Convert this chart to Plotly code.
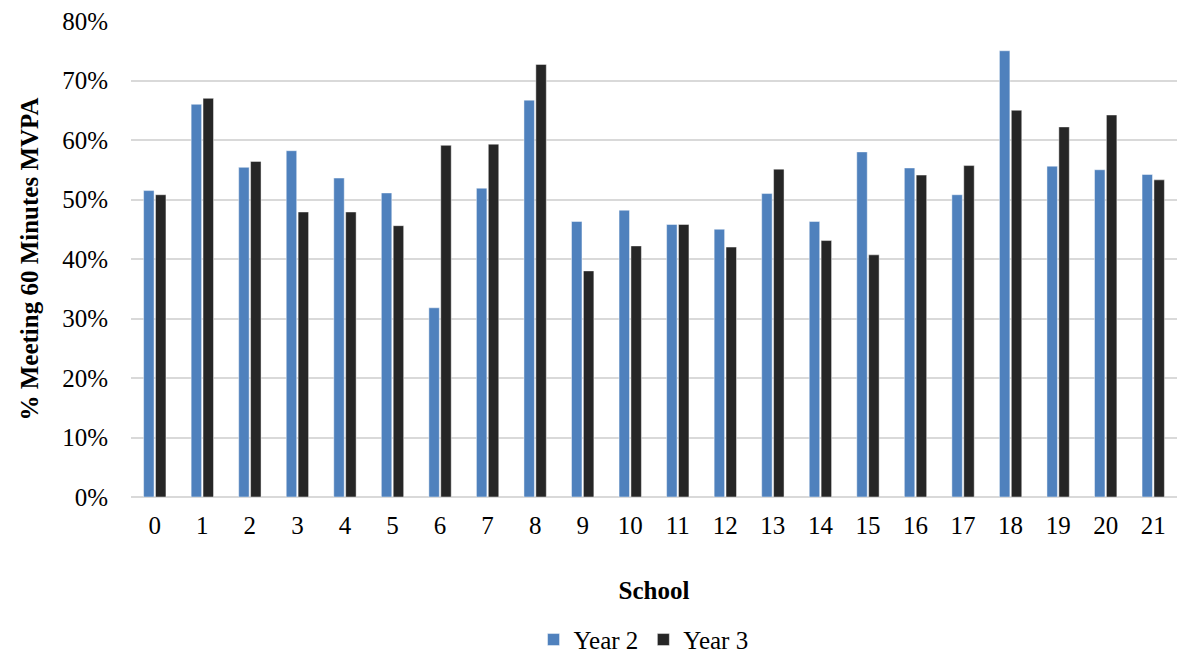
import plotly.graph_objects as go

schools = [str(i) for i in range(22)]
year2 = [51.5, 66.0, 55.4, 58.2, 53.6, 51.1, 31.8, 51.9, 66.7, 46.3, 48.2,
         45.8, 45.0, 51.0, 46.3, 58.0, 55.3, 50.8, 75.0, 55.6, 55.0, 54.2]
year3 = [50.8, 67.0, 56.4, 47.9, 47.9, 45.6, 59.1, 59.3, 72.7, 38.0, 42.2,
         45.8, 42.0, 55.1, 43.1, 40.7, 54.1, 55.7, 65.0, 62.2, 64.2, 53.3]
y_ticks = [0, 10, 20, 30, 40, 50, 60, 70, 80]

FONT = "Liberation Serif"
SIZE = 25


def serif(size=SIZE):
    return dict(family=FONT, size=size, color="black")


fig = go.Figure()
fig.add_trace(go.Bar(
    x=schools, y=year2, name="Year 2",
    marker=dict(color="#4F81BD", line=dict(color="rgba(255,255,255,0.45)", width=1)),
))
fig.add_trace(go.Bar(
    x=schools, y=year3, name="Year 3",
    marker=dict(color="#262626", line=dict(color="rgba(255,255,255,0.45)", width=1)),
))

fig.update_layout(
    width=1177, height=656,
    margin=dict(l=131, r=0, t=21, b=159, autoexpand=False),
    paper_bgcolor="white", plot_bgcolor="white",
    font=serif(),
    barmode="group", bargap=0.5, bargroupgap=0.12,
    showlegend=True,
    legend=dict(orientation="h", x=0.49, xanchor="center", y=-0.30, yanchor="middle",
                font=serif(), itemwidth=30, traceorder="normal"),
    xaxis=dict(
        automargin=False,
        showgrid=False, showline=False, zeroline=False,
        tickfont=serif(), ticks="", ticklabelstandoff=11,
        title=dict(text="<b>School</b>", font=serif(), standoff=43),
    ),
    yaxis=dict(
        automargin=False,
        range=[0, 80], tickvals=y_ticks,
        ticktext=[f"{v}%" for v in y_ticks],
        showgrid=True, gridcolor="#D9D9D9", gridwidth=1.5,
        zeroline=True, zerolinecolor="#D9D9D9", zerolinewidth=1.5,
        showline=False, ticks="", ticklabelstandoff=22,
        tickfont=serif(),
        title=dict(text="<b>% Meeting 60 Minutes MVPA</b>", font=serif(), standoff=16),
    ),
)

fig.write_html("out.html")
